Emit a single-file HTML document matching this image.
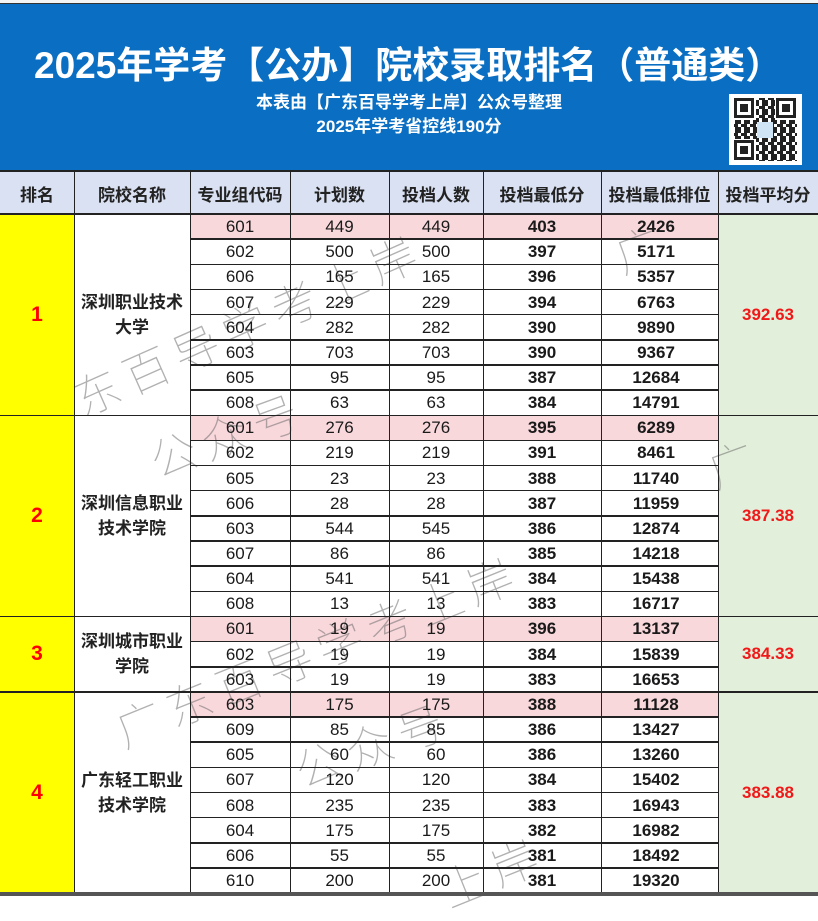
<!DOCTYPE html>
<html><head><meta charset="utf-8">
<style>
*{margin:0;padding:0;box-sizing:border-box}
body{width:818px;height:896px;overflow:hidden;background:#fff;position:relative;font-family:"Liberation Sans","Noto Sans CJK SC",sans-serif;color:#1a1a1a}
.a{position:absolute}
.hl{position:absolute;height:1.5px;background:#222}
.vl{position:absolute;width:1.5px;background:#222;top:171px;height:722px}
.r{position:absolute;left:190px;width:528px;height:25.15px;display:grid;grid-template-columns:100px 99px 94px 118px 110px;align-items:center;text-align:center;font-size:17px;line-height:25px}
.r span:nth-child(4),.r span:nth-child(5){font-weight:bold}
.p{background:#f9d8dc}
.hd{position:absolute;top:172px;height:42px;display:flex;align-items:center;justify-content:center;font-weight:bold;font-size:17px;color:#222}
.rk{position:absolute;left:0;width:74px;display:flex;align-items:center;justify-content:center;color:#f00;font-weight:bold;font-size:21px}
.nm{position:absolute;left:74px;width:116px;display:flex;align-items:center;justify-content:center;text-align:center;font-weight:bold;font-size:17px;line-height:25px;color:#222}
.av{position:absolute;left:718px;width:100px;display:flex;align-items:center;justify-content:center;color:#f01818;font-weight:bold;font-size:17px}
.wm{position:absolute;font-family:"Noto Sans CJK SC",sans-serif;font-weight:100;font-size:46px;color:rgba(100,100,100,.5);transform-origin:left top;white-space:nowrap;letter-spacing:8px}
</style></head><body>
<!-- header blue -->
<div class="a" style="left:0;top:0;width:818px;height:3px;background:#f4f4f4"></div>
<div class="a" style="left:0;top:3px;width:818px;height:1px;background:#333"></div>
<div class="a" style="left:0;top:4px;width:818px;height:167px;background:#0a6fc2"></div>
<div class="a" style="left:34px;top:45px;white-space:nowrap;color:#fff;font-weight:bold;font-size:37px;line-height:42px">2025年学考【公办】院校录取排名（普通类）</div>
<div class="a" style="left:0;top:92px;width:818px;text-align:center;color:#fff;font-weight:bold;font-size:17px;line-height:22px">本表由【广东百导学考上岸】公众号整理</div>
<div class="a" style="left:0;top:116px;width:818px;text-align:center;color:#fff;font-weight:bold;font-size:17px;line-height:22px">2025年学考省控线190分</div>
<div class="a" style="left:729px;top:94px;width:73px;height:71px;background:#fff">
<svg width="73" height="71" viewBox="0 0 73 71">
<defs><pattern id="q" width="9" height="9" patternUnits="userSpaceOnUse">
<rect x="0" y="0" width="3" height="3" fill="#222"/><rect x="6" y="0" width="3" height="3" fill="#222"/><rect x="3" y="3" width="3" height="3" fill="#222"/><rect x="0" y="6" width="3" height="3" fill="#222"/><rect x="6" y="3" width="3" height="6" fill="#222"/></pattern></defs>
<rect x="5" y="4" width="63" height="63" fill="url(#q)"/>
<g fill="#fff"><rect x="4" y="3" width="23" height="23"/><rect x="46" y="3" width="23" height="23"/><rect x="4" y="45" width="23" height="23"/><rect x="28" y="28" width="16" height="16" fill="#cfe4f5"/></g>
<g fill="none" stroke="#222" stroke-width="3"><rect x="6.5" y="5.5" width="17" height="17"/><rect x="48.5" y="5.5" width="17" height="17"/><rect x="6.5" y="47.5" width="17" height="17"/></g>
<g fill="#222"><rect x="11" y="10" width="8" height="8"/><rect x="53" y="10" width="8" height="8"/><rect x="11" y="52" width="8" height="8"/></g>
</svg></div>

<!-- column header -->
<div class="a" style="left:0;top:171px;width:818px;height:43px;background:#d9e1f2"></div>
<div class="hd" style="left:0;width:74px">排名</div>
<div class="hd" style="left:74px;width:116px">院校名称</div>
<div class="hd" style="left:190px;width:100px">专业组代码</div>
<div class="hd" style="left:290px;width:99px">计划数</div>
<div class="hd" style="left:389px;width:94px">投档人数</div>
<div class="hd" style="left:483px;width:118px">投档最低分</div>
<div class="hd" style="left:601px;width:117px">投档最低排位</div>
<div class="hd" style="left:718px;width:100px">投档平均分</div>

<!-- backgrounds -->
<div class="a" style="left:718px;top:214px;width:100px;height:679px;background:#e2efda"></div>
<div class="a p" style="left:190px;top:214px;width:528px;height:25.15px"></div>
<div class="a p" style="left:190px;top:415.2px;width:528px;height:25.15px"></div>
<div class="a p" style="left:190px;top:616.4px;width:528px;height:25.15px"></div>
<div class="a p" style="left:190px;top:691.85px;width:528px;height:25.15px"></div>

<!-- watermark -->
<div class="wm" style="left:62px;top:370px;transform:rotate(-24deg)">东百导学考上岸</div>
<div class="wm" style="left:140px;top:430px;transform:rotate(-20deg)">公众号</div>
<div class="wm" style="left:105px;top:700px;transform:rotate(-22deg)">广东百导学考上岸</div>
<div class="wm" style="left:285px;top:740px;transform:rotate(-20deg)">公众号</div>
<div class="wm" style="left:605px;top:225px;transform:rotate(-20deg)">广</div>
<div class="wm" style="left:698px;top:440px;transform:rotate(-20deg)">广</div>
<div class="wm" style="left:430px;top:860px;transform:rotate(-22deg)">上岸</div>

<div class="a" style="left:0;top:214px;width:74px;height:679px;background:#ffff00"></div>

<!-- rows -->
<div class="r" style="top:214px"><span>601</span><span>449</span><span>449</span><span>403</span><span>2426</span></div>
<div class="r" style="top:239.15px"><span>602</span><span>500</span><span>500</span><span>397</span><span>5171</span></div>
<div class="r" style="top:264.3px"><span>606</span><span>165</span><span>165</span><span>396</span><span>5357</span></div>
<div class="r" style="top:289.45px"><span>607</span><span>229</span><span>229</span><span>394</span><span>6763</span></div>
<div class="r" style="top:314.6px"><span>604</span><span>282</span><span>282</span><span>390</span><span>9890</span></div>
<div class="r" style="top:339.75px"><span>603</span><span>703</span><span>703</span><span>390</span><span>9367</span></div>
<div class="r" style="top:364.9px"><span>605</span><span>95</span><span>95</span><span>387</span><span>12684</span></div>
<div class="r" style="top:390.05px"><span>608</span><span>63</span><span>63</span><span>384</span><span>14791</span></div>
<div class="r" style="top:415.2px"><span>601</span><span>276</span><span>276</span><span>395</span><span>6289</span></div>
<div class="r" style="top:440.35px"><span>602</span><span>219</span><span>219</span><span>391</span><span>8461</span></div>
<div class="r" style="top:465.5px"><span>605</span><span>23</span><span>23</span><span>388</span><span>11740</span></div>
<div class="r" style="top:490.65px"><span>606</span><span>28</span><span>28</span><span>387</span><span>11959</span></div>
<div class="r" style="top:515.8px"><span>603</span><span>544</span><span>545</span><span>386</span><span>12874</span></div>
<div class="r" style="top:540.95px"><span>607</span><span>86</span><span>86</span><span>385</span><span>14218</span></div>
<div class="r" style="top:566.1px"><span>604</span><span>541</span><span>541</span><span>384</span><span>15438</span></div>
<div class="r" style="top:591.25px"><span>608</span><span>13</span><span>13</span><span>383</span><span>16717</span></div>
<div class="r" style="top:616.4px"><span>601</span><span>19</span><span>19</span><span>396</span><span>13137</span></div>
<div class="r" style="top:641.55px"><span>602</span><span>19</span><span>19</span><span>384</span><span>15839</span></div>
<div class="r" style="top:666.7px"><span>603</span><span>19</span><span>19</span><span>383</span><span>16653</span></div>
<div class="r" style="top:691.85px"><span>603</span><span>175</span><span>175</span><span>388</span><span>11128</span></div>
<div class="r" style="top:717px"><span>609</span><span>85</span><span>85</span><span>386</span><span>13427</span></div>
<div class="r" style="top:742.15px"><span>605</span><span>60</span><span>60</span><span>386</span><span>13260</span></div>
<div class="r" style="top:767.3px"><span>607</span><span>120</span><span>120</span><span>384</span><span>15402</span></div>
<div class="r" style="top:792.45px"><span>608</span><span>235</span><span>235</span><span>383</span><span>16943</span></div>
<div class="r" style="top:817.6px"><span>604</span><span>175</span><span>175</span><span>382</span><span>16982</span></div>
<div class="r" style="top:842.75px"><span>606</span><span>55</span><span>55</span><span>381</span><span>18492</span></div>
<div class="r" style="top:867.9px"><span>610</span><span>200</span><span>200</span><span>381</span><span>19320</span></div>

<!-- merged cells -->
<div class="rk" style="top:214px;height:201px">1</div>
<div class="rk" style="top:415px;height:201px">2</div>
<div class="rk" style="top:616px;height:76px">3</div>
<div class="rk" style="top:692px;height:201px">4</div>
<div class="nm" style="top:214px;height:201px">深圳职业技术<br>大学</div>
<div class="nm" style="top:415px;height:201px">深圳信息职业<br>技术学院</div>
<div class="nm" style="top:616px;height:76px">深圳城市职业<br>学院</div>
<div class="nm" style="top:692px;height:201px">广东轻工职业<br>技术学院</div>
<div class="av" style="top:214px;height:201px">392.63</div>
<div class="av" style="top:415px;height:201px">387.38</div>
<div class="av" style="top:616px;height:76px">384.33</div>
<div class="av" style="top:692px;height:201px">383.88</div>

<!-- lines -->
<div class="hl" style="left:0;width:818px;top:170px"></div>
<div class="hl" style="left:0;width:818px;top:213px"></div>
<div class="hl" style="left:0;width:818px;top:414.5px"></div>
<div class="hl" style="left:0;width:818px;top:615.7px"></div>
<div class="hl" style="left:0;width:818px;top:691.1px"></div>
<div class="hl" style="left:190px;width:528px;top:238.4px"></div>
<div class="hl" style="left:190px;width:528px;top:263.6px"></div>
<div class="hl" style="left:190px;width:528px;top:288.7px"></div>
<div class="hl" style="left:190px;width:528px;top:313.9px"></div>
<div class="hl" style="left:190px;width:528px;top:339px"></div>
<div class="hl" style="left:190px;width:528px;top:364.2px"></div>
<div class="hl" style="left:190px;width:528px;top:389.3px"></div>
<div class="hl" style="left:190px;width:528px;top:439.6px"></div>
<div class="hl" style="left:190px;width:528px;top:464.8px"></div>
<div class="hl" style="left:190px;width:528px;top:489.9px"></div>
<div class="hl" style="left:190px;width:528px;top:515.1px"></div>
<div class="hl" style="left:190px;width:528px;top:540.2px"></div>
<div class="hl" style="left:190px;width:528px;top:565.4px"></div>
<div class="hl" style="left:190px;width:528px;top:590.5px"></div>
<div class="hl" style="left:190px;width:528px;top:640.8px"></div>
<div class="hl" style="left:190px;width:528px;top:666px"></div>
<div class="hl" style="left:190px;width:528px;top:716.3px"></div>
<div class="hl" style="left:190px;width:528px;top:741.4px"></div>
<div class="hl" style="left:190px;width:528px;top:766.6px"></div>
<div class="hl" style="left:190px;width:528px;top:791.7px"></div>
<div class="hl" style="left:190px;width:528px;top:816.9px"></div>
<div class="hl" style="left:190px;width:528px;top:842px"></div>
<div class="hl" style="left:190px;width:528px;top:867.2px"></div>
<div class="vl" style="left:73.5px"></div>
<div class="vl" style="left:189.5px"></div>
<div class="vl" style="left:289.5px"></div>
<div class="vl" style="left:388.5px"></div>
<div class="vl" style="left:482.5px"></div>
<div class="vl" style="left:600.5px"></div>
<div class="vl" style="left:717.5px"></div>
<div class="a" style="left:0;top:892px;width:818px;height:4px;background:#555"></div>
</body></html>
